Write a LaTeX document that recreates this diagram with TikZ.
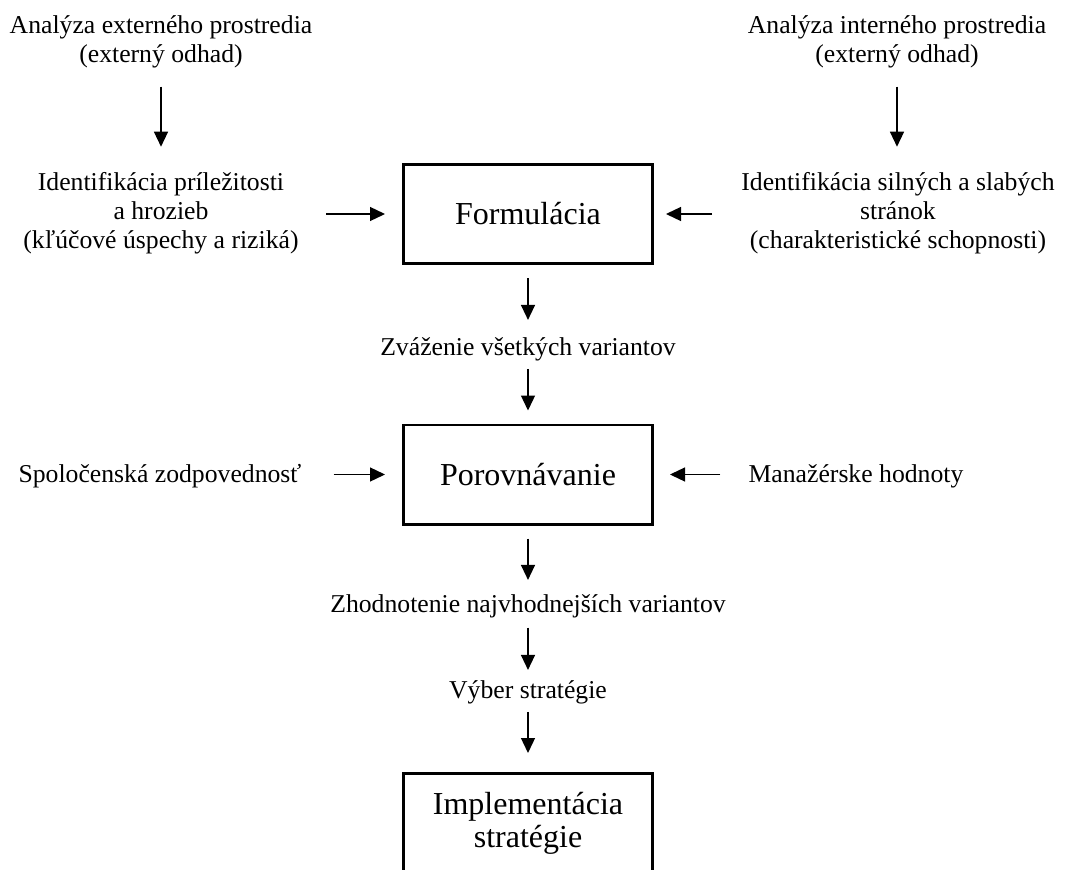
\documentclass[tikz,border=0pt]{standalone}
\usepackage{fontspec}
\setmainfont{Liberation Serif}
\usetikzlibrary{arrows.meta}
\begin{document}
\begin{tikzpicture}[x=1pt,y=-1pt,
  lbl/.style={font=\fontsize{25.7}{29}\selectfont, align=center, inner sep=0pt, anchor=base},
  stage/.style={draw, line width=2.6pt, minimum width=249.4pt, minimum height=99.4pt,
    font=\fontsize{32}{33}\selectfont, align=center, inner sep=0pt},
  flow/.style={line width=1.3pt, -{Triangle[length=15pt,width=14pt]}}]
\fill[white] (0,0) rectangle (1074,870);
\useasboundingbox (0,0) rectangle (1074,870);
\clip (0,0) rectangle (1074,870);

% environment analysis (positions give the baseline of the last line)
\node[lbl] (ext) at (161,62) {Analýza externého prostredia\\(externý odhad)};
\node[lbl] (int) at (897,62) {Analýza interného prostredia\\(externý odhad)};
\node[lbl] (opp) at (161,248) {Identifikácia príležitosti\\a hrozieb\\(kľúčové úspechy a riziká)};
\node[lbl] (cap) at (898,248) {Identifikácia silných a slabých\\stránok\\(charakteristické schopnosti)};

% main stages
\node[stage] (form) at (528,214) {Formulácia};
\node[stage] (comp) at (528,474.5) {Porovnávanie};
\node[stage] (impl) at (528,823) {Implementácia\\stratégie};

% intermediate results and inputs
\node[lbl] (weigh) at (528,355) {Zváženie všetkých variantov};
\node[lbl] (soc) at (160,482) {Spoločenská zodpovednosť};
\node[lbl] (mgr) at (856,482) {Manažérske hodnoty};
\node[lbl] (best) at (528,612) {Zhodnotenie najvhodnejších variantov};
\node[lbl] (pick) at (528,698) {Výber stratégie};

% connectors
\draw[flow, shorten <=19pt, shorten >=25pt] (ext.south) -- (opp.north);
\draw[flow, shorten <=19pt, shorten >=25pt] (int.south) -- (int.south |- cap.north);
\draw[flow, shorten <=27.5pt, shorten >=17pt] (opp.east |- form) -- (form.west);
\draw[flow, shorten <=29pt, shorten >=12pt] (cap.west |- form) -- (form.east);
\draw[flow, shorten <=13pt, shorten >=17pt] (form.south) -- (weigh.north);
\draw[flow, shorten <=8pt, shorten >=13pt] (weigh.south) -- (comp.north);
\draw[flow, shorten <=32pt, shorten >=17pt] (soc.east |- comp) -- (comp.west);
\draw[flow, shorten <=28pt, shorten >=16pt] (mgr.west |- comp) -- (comp.east);
\draw[flow, shorten <=13pt, shorten >=14pt] (comp.south) -- (best.north);
\draw[flow, shorten <=10pt, shorten >=10pt] (best.south) -- (pick.north);
\draw[flow, shorten <=8pt, shorten >=19pt] (pick.south) -- (impl.north);
\end{tikzpicture}
\end{document}
